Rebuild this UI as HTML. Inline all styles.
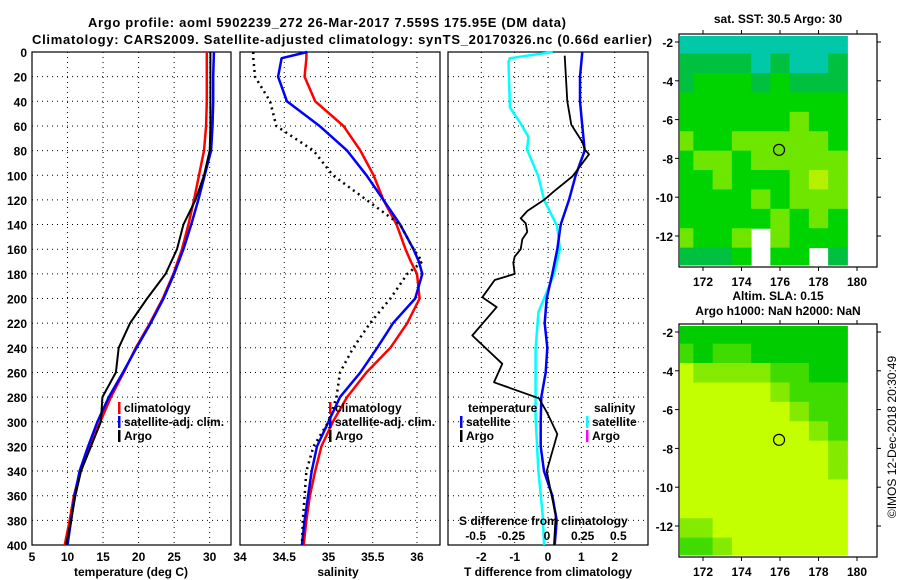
<!DOCTYPE html>
<html><head><meta charset="utf-8"><style>
html,body{margin:0;padding:0;background:#fff;}
svg{display:block;font-family:"Liberation Sans",sans-serif;font-weight:bold;}
</style></head><body>
<svg id="c" width="900" height="580" viewBox="0 0 900 580">
<text x="327" y="27" text-anchor="middle" font-size="13" textLength="478">Argo profile: aoml 5902239_272 26-Mar-2017 7.559S 175.95E (DM data)</text>
<text x="32" y="44" font-size="13" textLength="620">Climatology: CARS2009. Satellite-adjusted climatology: synTS_20170326.nc (0.66d earlier)</text>
<g id="g"></g>
</svg>
<script>
// ---- data ----
const depths = [0,20,40,60,80,100,120,140,160,180,200,220,240,260,280,300,320,340,360,380,400];
const tempClim = [29.6,29.6,29.6,29.5,29.2,28.5,27.8,27.0,26.1,24.9,23.4,21.6,19.6,17.9,16.1,14.6,13.2,11.8,10.9,10.3,9.6];
const tempSat  = [30.6,30.5,30.5,30.4,30.2,29.3,28.4,27.4,26.3,25.0,23.5,21.7,19.7,17.8,15.8,14.2,12.9,11.7,11.0,10.5,10.0];
const tempArgo = [30.1,30.1,30.1,30.1,30.0,29.2,28.0,26.3,25.4,23.8,21.2,18.8,17.2,16.8,14.9,14.7,13.3,11.9,11.1,10.5,9.8];
const salDepths = [0,5,20,40,60,80,100,120,140,160,170,180,200,220,240,260,280,300,320,340,360,380,400];
const salClim = [34.75,34.75,34.73,34.85,35.17,35.36,35.51,35.62,35.77,35.87,35.93,36.0,36.03,35.89,35.70,35.43,35.21,35.05,34.92,34.85,34.79,34.75,34.72];
const salSat  = [34.76,34.47,34.43,34.53,34.90,35.21,35.43,35.62,35.81,35.96,36.02,36.06,35.98,35.73,35.55,35.36,35.13,35.0,34.87,34.81,34.77,34.73,34.70];
const salArgo = [34.15,34.15,34.17,34.34,34.41,34.83,35.05,35.43,35.81,35.96,36.06,35.89,35.70,35.47,35.28,35.13,35.09,35.0,34.83,34.75,34.73,34.71,34.70];
const dTsatDepths = [0,20,40,60,80,100,120,140,160,180,200,220,240,260,280,300,320,340,360,380,400];
const dTsat = [1.03,0.96,0.96,1.03,1.1,0.83,0.63,0.38,0.28,0.13,-0.04,-0.1,-0.02,-0.07,-0.2,-0.22,-0.22,-0.12,0.13,0.26,0.2];
const dTargoDepths = [3,40,59,73,79,83,92,101,113,120,129,135,139,146,152,160,166,171,180,185,199,207,230,253,268,281,293,310,340,376,400];
const dTargo = [0.5,0.58,0.7,1.03,1.1,1.23,0.98,0.73,0.18,-0.12,-0.62,-0.82,-0.67,-0.62,-0.77,-0.82,-1.0,-1.04,-1.0,-1.6,-1.97,-1.54,-2.27,-1.37,-1.62,-0.27,-0.02,0.28,-0.04,0.23,0.18];
const dSsatDepths = [0,5,8,45,57,69,79,101,120,141,149,160,180,197,211,241,297,340,376,400];
const dSsat = [0.04,-0.26,-0.27,-0.26,-0.19,-0.13,-0.14,-0.06,-0.02,0.07,0.08,0.09,0.05,-0.01,-0.06,-0.08,-0.08,-0.06,-0.03,-0.02];
const tempTicks = [5,10,15,20,25,30];
const salTicks = [34,34.5,35,35.5,36];
const tdTicks = [-2,-1,0,1,2];
const sdTicks = [-0.5,-0.25,0,0.25,0.5];
const depthTicks = [0,20,40,60,80,100,120,140,160,180,200,220,240,260,280,300,320,340,360,380,400];
const lonTicks = [172,174,176,178,180];
const latTicks = [-2,-4,-6,-8,-10,-12];
const mapLons = [171,172,173,174,175,176,177,178,179];
const mapLats = [-1.6,-2.6,-3.6,-4.6,-5.6,-6.6,-7.6,-8.6,-9.6,-10.6,-11.6,-12.6];
const sstGrid = [
[0,0,0,0,0,0,0,0,0],
[1,1,1,1,0,1,0,0,1],
[1,2,2,2,1,2,1,1,1],
[2,2,2,2,2,2,2,2,2],
[2,2,2,2,2,2,3,2,2],
[3,2,2,3,3,3,3,3,2],
[2,3,3,2,3,3,3,3,3],
[2,2,3,2,2,2,3,4,3],
[2,2,2,2,3,2,3,3,3],
[2,2,2,2,2,3,2,3,2],
[3,2,2,3,-1,3,2,2,2],
[1,1,1,2,-1,2,2,-1,1]];
const slaGrid = [
[0,0,0,0,0,0,0,0,0],
[1,0,1,1,0,0,0,0,0],
[3,2,2,2,2,1,1,0,0],
[3,3,3,3,3,2,1,1,1],
[3,3,3,3,3,3,2,1,1],
[3,3,3,3,3,3,3,2,1],
[3,3,3,3,3,3,3,3,2],
[3,3,3,3,3,3,3,3,2],
[3,3,3,3,3,3,3,3,3],
[3,3,3,3,3,3,3,3,3],
[2,2,3,3,3,3,3,3,3],
[1,1,2,3,3,3,3,3,3]];
const argoLon = 175.95, argoLat = -7.559;

// ---- helpers ----
const NS="http://www.w3.org/2000/svg";
const G=document.getElementById('g');
function mk(tag,attrs,parent){const e=document.createElementNS(NS,tag);for(const k in attrs)e.setAttribute(k,attrs[k]);(parent||G).appendChild(e);return e;}
function txt(x,y,s,size,anchor,parent){const e=mk('text',{x:x,y:y,'font-size':size,'text-anchor':anchor||'start'},parent);e.textContent=s;return e;}
const yTop=52,yBot=545;
const yD=d=>yTop+(yBot-yTop)*d/400;
function lin(a0,a1,p0,p1){return v=>p0+(v-a0)*(p1-p0)/(a1-a0);}
const xT=lin(5,33,32,231), xS=lin(34,36.26,240,440), xTd=lin(-3,3,448,648), xSd=v=>547+v*(xTd(1)-xTd(0))*4.28;
const tickY=561, titleY=576;

function panel(x0,x1,xticks,xs,fmt,name){
  const g=mk('g',{});
  
  
  xticks.forEach(t=>{const l=mk('line',{x1:xs(t),x2:xs(t),y1:yTop,y2:yBot,stroke:'#000','stroke-width':1,'stroke-dasharray':'1 4'},g);
    
    
    if(fmt){const tl=txt(xs(t),tickY,fmt(t),12,'middle',g);
    
    }});
  depthTicks.forEach(d=>{const l=mk('line',{x1:x0,x2:x1,y1:yD(d),y2:yD(d),stroke:'#000','stroke-width':1,'stroke-dasharray':'1 4'},g);
    
    });
  const r=mk('rect',{x:x0,y:yTop,width:x1-x0,height:yBot-yTop,fill:'none',stroke:'#000','stroke-width':1.2},g);
  
  
  return g;
}
function series(vals,ds,xs,color,w,dash,name){
  const pts=vals.map((v,i)=>xs(v).toFixed(1)+','+yD(ds[i]).toFixed(1)).join(' ');
  const p=mk('polyline',{points:pts,fill:'none',stroke:color,'stroke-width':w,'stroke-dasharray':dash||'none','stroke-linejoin':'round'});
  
  
}
function legendItem(x,y,color,label,name){
  const m=mk('rect',{x:x,y:y-10,width:2.5,height:12,fill:color});
  
  
  const t=txt(x+6,y,label,12,'start');
  
  
}

// panel 1 temperature
panel(32,231,tempTicks,xT,t=>String(t),'temperature-panel');
depthTicks.forEach(d=>{const t=txt(27,yD(d)+5,String(d),12,'end');
  
  });
series(tempClim,depths,xT,'#f00',2.5,null,'temp-climatology-line');
series(tempSat,depths,xT,'#00f',2.5,null,'temp-satellite-line');
series(tempArgo,depths,xT,'#000',2,null,'temp-argo-line');
legendItem(118,412,'#f00','climatology','temp-legend-climatology');
legendItem(118,426,'#00f','satellite-adj. clim.','temp-legend-satellite');
legendItem(118,440,'#000','Argo','temp-legend-argo');
let t1=txt(131,titleY,'temperature (deg C)',12,'middle');


let t34=txt(240,tickY,'34',12,'middle');



// panel 2 salinity
panel(240,440,salTicks.slice(1),xS,t=>String(t),'salinity-panel');
series(salClim,salDepths,xS,'#f00',2.5,null,'sal-climatology-line');
series(salSat,salDepths,xS,'#00f',2.5,null,'sal-satellite-line');
series(salArgo,salDepths,xS,'#000',2.5,'2 4','sal-argo-line');
legendItem(329,412,'#f00','climatology','sal-legend-climatology');
legendItem(329,426,'#00f','satellite-adj. clim.','sal-legend-satellite');
legendItem(329,440,'#000','Argo','sal-legend-argo');
let t2=txt(338,titleY,'salinity',12,'middle');



// panel 3 differences
panel(448,648,tdTicks,xTd,t=>String(t),'difference-panel');
series(dSsat,dSsatDepths,xSd,'#0ff',2.5,null,'sal-diff-satellite-line');
series(dTsat,dTsatDepths,xTd,'#00f',2.5,null,'temp-diff-satellite-line');
series(dTargo,dTargoDepths,xTd,'#000',1.8,null,'temp-diff-argo-line');
let lt=txt(468,412,'temperature',12,'start');


legendItem(460,426,'#00f','satellite','diff-legend-temp-satellite');
legendItem(460,440,'#000','Argo','diff-legend-temp-argo');
let ls=txt(594,412,'salinity',12,'start');


legendItem(586,426,'#0ff','satellite','diff-legend-sal-satellite');
legendItem(586,440,'#f0f','Argo','diff-legend-sal-argo');
let sh=txt(459,525,'S difference from climatology',12,'start');


sdTicks.forEach(s=>{const t=txt(xSd(s),540,String(s),12,'middle');
  
  });
let t3=txt(548,titleY,'T difference from climatology',12,'middle');



// maps
const sstColors=['#00c8a8','#00c040','#00d400','#6ee600','#b4f000'];
const slaColors=['#00cc00','#40dc00','#84ea00','#c4ff00'];
function drawMap(grid,colors,boxY,latY0,name,title1,title2){
  const g=mk('g',{});
  
  
  const xL=lin(172,180,703,857), yL=lin(-2,-12,latY0,latY0+194);
  grid.forEach((row,i)=>row.forEach((v,j)=>{
    if(v<0)return;
    const x0=Math.max(xL(mapLons[j]-0.5),680), x1=Math.min(xL(mapLons[j]+0.5),858);
    const y0=Math.max(yL(mapLats[i]),boxY+2), y1=Math.min(yL(mapLats[i]-1),boxY+231);
    const c=mk('rect',{x:x0,y:y0,width:x1-x0+0.5,height:y1-y0+0.5,fill:colors[v]},g);
    
    
  }));
  const fr=mk('rect',{x:679,y:boxY,width:198,height:233,fill:'none',stroke:'#000','stroke-width':1.2},g);
  
  
  lonTicks.forEach(l=>{
    mk('line',{x1:xL(l),x2:xL(l),y1:boxY,y2:boxY-4,stroke:'#000'},g);
    mk('line',{x1:xL(l),x2:xL(l),y1:boxY+233,y2:boxY+237,stroke:'#000'},g);
    const t=txt(xL(l),boxY+252,String(l),12,'middle',g);
    
    });
  latTicks.forEach(l=>{
    mk('line',{x1:679,x2:675,y1:yL(l),y2:yL(l),stroke:'#000'},g);
    mk('line',{x1:877,x2:881,y1:yL(l),y2:yL(l),stroke:'#000'},g);
    const t=txt(673,yL(l)+5,String(l),12,'end',g);
    
    });
  const ci=mk('circle',{cx:xL(argoLon),cy:yL(argoLat),r:5.5,fill:'none',stroke:'#000','stroke-width':1.2},g);
  
  
  if(title2){
    const a=txt(778,boxY-24,title1,12,'middle',g);
    
    
    const b=txt(778,boxY-9,title2,12,'middle',g);
    
    
  } else {
    const a=txt(778,boxY-11,title1,12,'middle',g);
    
    
  }
}
drawMap(sstGrid,sstColors,34,42,'sst-map','sat. SST: 30.5 Argo: 30');
drawMap(slaGrid,slaColors,324,332,'sla-map','Altim. SLA: 0.15','Argo h1000: NaN h2000: NaN');
const dt=txt(0,0,'©IMOS 12-Dec-2018 20:30:49',12,'middle');
dt.setAttribute('transform','translate(896,437) rotate(-90)');
dt.setAttribute('font-weight','normal');


</script>
</body></html>
